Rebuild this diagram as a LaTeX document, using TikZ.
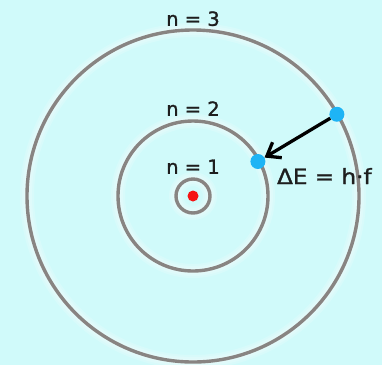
\documentclass[tikz,border=0pt]{standalone}
\usepackage{fontspec}
\setmainfont[FakeBold=1.3]{DejaVu Sans}
\usetikzlibrary{arrows.meta, calc}

\definecolor{bgcyan}{RGB}{208,250,250}
\definecolor{orbitgray}{RGB}{136,132,130}
\definecolor{electronblue}{RGB}{30,180,245}
\definecolor{nucleusred}{RGB}{245,20,20}
\definecolor{textdark}{RGB}{30,30,30}

\begin{document}
\begin{tikzpicture}[x=1pt, y=-1pt,
  orbit/.style={circle, draw=orbitgray, line width=3.4pt, inner sep=0pt},
  glow/.style={draw=white, draw opacity=0.18},
  electron/.style={circle, fill=electronblue, inner sep=0pt, minimum size=15pt},
  lbl/.style={font=\fontsize{19.5}{21}\selectfont, text=textdark, anchor=base, inner sep=0pt}]
\useasboundingbox (0,0) rectangle (382,365);
\fill[bgcyan] (0,0) rectangle (382,365);
\coordinate (c) at (193,196);
% soft halo under the orbits
\foreach \r in {17,75,166}
  \foreach \w in {14,10,6}
    \draw[glow, line width=\w pt] (c) circle (\r);
% orbits
\node[orbit, minimum size=34pt] (o1) at (c) {};
\node[orbit, minimum size=150pt] (o2) at (c) {};
\node[orbit, minimum size=332pt] (o3) at (c) {};
\node[circle, fill=nucleusred, inner sep=0pt, minimum size=11pt] (nuc) at (c) {};
% labels
\node[lbl] (l1) at ([yshift=3.5pt]o1.north) {n = 1};
\node[lbl] (l2) at ([yshift=3.5pt]o2.north) {n = 2};
\node[lbl] (l3) at ([yshift=2.5pt]o3.north) {n = 3};
% electrons and the jump
\node[electron] (e2) at ($(c)+(-28:73.5)$) {};
\node[electron] (e3) at ($(c)+(-29.6:165.5)$) {};
\draw[-{Straight Barb[length=12pt,width=18pt]}, line width=3.3pt] (e3) -- (e2);
\node[lbl, anchor=base west, font=\fontsize{21}{23}\selectfont] (de)
  at ([xshift=19pt,yshift=-22.5pt]e2.center) {\scalebox{1.1}[1]{ΔE = h·f}};
\end{tikzpicture}
\end{document}
